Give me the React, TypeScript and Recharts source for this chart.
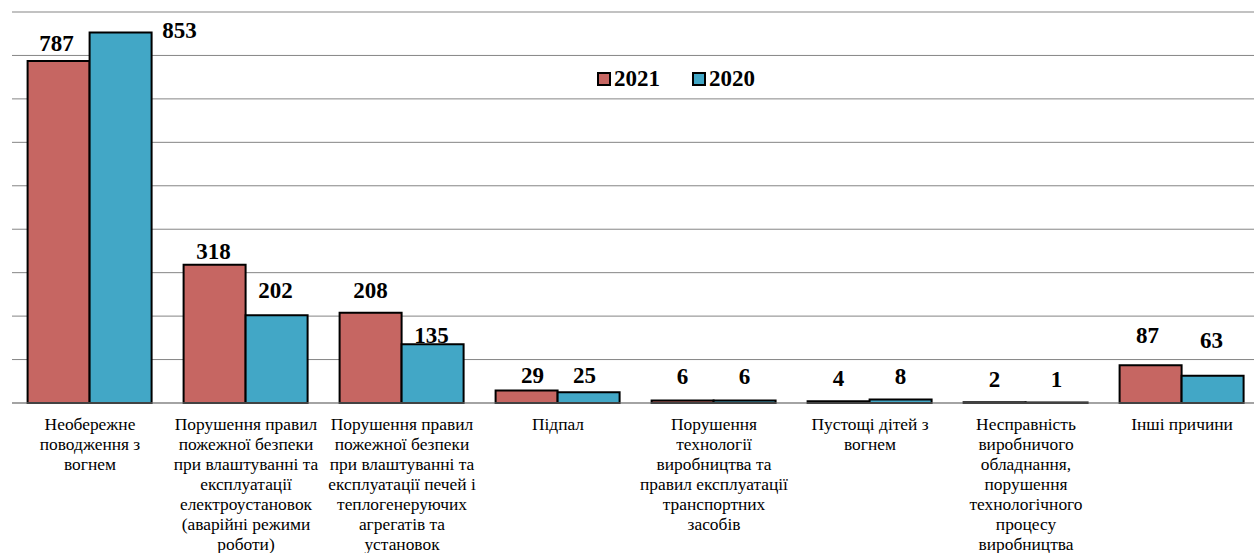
import { Bar, BarChart, CartesianGrid, XAxis, YAxis } from "recharts";

const categories = [
  "Необережне\nповодження з\nвогнем",
  "Порушення правил\nпожежної безпеки\nпри влаштуванні та\nексплуатації\nелектроустановок\n(аварійні режими\nроботи)",
  "Порушення правил\nпожежної безпеки\nпри влаштуванні та\nексплуатації печей і\nтеплогенеруючих\nагрегатів та\nустановок",
  "Підпал",
  "Порушення\nтехнології\nвиробництва та\nправил експлуатації\nтранспортних\nзасобів",
  "Пустощі дітей з\nвогнем",
  "Несправність\nвиробничого\nобладнання,\nпорушення\nтехнологічного\nпроцесу\nвиробництва",
  "Інші причини",
];

const values2021 = [787, 318, 208, 29, 6, 4, 2, 87];
const values2020 = [853, 202, 135, 25, 6, 8, 1, 63];

const yTicks = [0, 100, 200, 300, 400, 500, 600, 700, 800, 900];

const data = categories.map((name, i) => ({
  name,
  y2021: values2021[i],
  y2020: values2020[i],
}));

const RED = "#C66662";
const BLUE = "#42A7C6";
const FONT = "Liberation Serif";

// manual label placement, like in the source workbook
const LIFT_2021 = [10, 5.5, 15, 7, 16, 15.6, 15.6, 22.5];
const SHIFT_2021 = [-2, -1, 0, 6, 0, 0, 0, -3];
const LIFT_2020 = [-5.5, 17.6, 1, 9, 16, 16, 16, 28];
const SHIFT_2020 = [59, -1, -1, -4, 0, 0, 0, -1];

function makeLabel(lift: number[], shift: number[]) {
  return (props: any) => {
    const { x, y, width, value, index } = props;
    return (
      <text
        x={Number(x) + Number(width) / 2 + shift[index]}
        y={Number(y) - lift[index]}
        textAnchor="middle"
        style={{ fontFamily: FONT, fontWeight: "bold", fontSize: 23 }}
        fill="#000"
      >
        {value}
      </text>
    );
  };
}

function CategoryTick(props: any) {
  const { x, y, payload } = props;
  const lines = String(payload.value).split("\n");
  return (
    <g>
      <text
        x={x}
        y={y}
        textAnchor="middle"
        style={{ fontFamily: FONT, fontSize: 17.4 }}
        fill="#000"
      >
        {lines.map((line, i) => (
          <tspan key={i} x={x} dy={i === 0 ? 19 : 20}>
            {line}
          </tspan>
        ))}
      </text>
    </g>
  );
}

function LegendBox() {
  const item = (color: string, label: string) => (
    <span style={{ display: "inline-flex", alignItems: "center", marginRight: 32 }}>
      <span
        style={{
          display: "inline-block",
          width: 10,
          height: 10,
          background: color,
          border: "2px solid #000",
          marginRight: 3,
        }}
      />
      <span>{label}</span>
    </span>
  );
  return (
    <div
      style={{
        position: "absolute",
        left: 597,
        top: 66,
        fontFamily: FONT,
        fontWeight: "bold",
        fontSize: 23,
        lineHeight: "26px",
        color: "#000",
        display: "flex",
      }}
    >
      {item(RED, "2021")}
      {item(BLUE, "2020")}
    </div>
  );
}

export default function App() {
  return (
    <div
      style={{
        position: "absolute",
        left: 0,
        top: 0,
        width: 1254,
        height: 553,
        overflow: "hidden",
        background: "#fff",
      }}
    >
      <BarChart
        width={1260}
        height={553}
        data={data}
        margin={{ top: 12, right: 0, left: 12, bottom: 0 }}
        barCategoryGap="10%"
        barGap={0}
      >
        <CartesianGrid vertical={false} stroke="#858585" strokeWidth={1} />
        <XAxis
          dataKey="name"
          height={150}
          interval={0}
          tickLine={false}
          axisLine={{ stroke: "#858585" }}
          tick={CategoryTick}
        />
        <YAxis hide width={0} domain={[0, 900]} ticks={yTicks} />
        <Bar
          dataKey="y2021"
          name="2021"
          fill={RED}
          stroke="#000"
          strokeWidth={2}
          isAnimationActive={false}
          label={makeLabel(LIFT_2021, SHIFT_2021)}
        />
        <Bar
          dataKey="y2020"
          name="2020"
          fill={BLUE}
          stroke="#000"
          strokeWidth={2}
          isAnimationActive={false}
          label={makeLabel(LIFT_2020, SHIFT_2020)}
        />
      </BarChart>
      <LegendBox />
    </div>
  );
}
